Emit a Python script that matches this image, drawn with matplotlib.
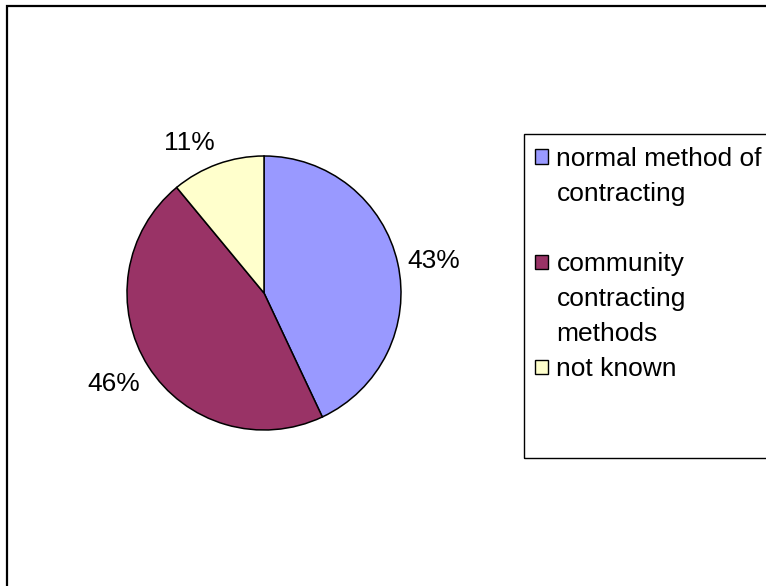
import matplotlib
matplotlib.use('Agg')
import matplotlib.pyplot as plt
from matplotlib.patches import Rectangle, Patch
import numpy as np

# contracting method shares (%)
methods = ['normal method of\ncontracting', 'community\ncontracting\nmethods', 'not known']
shares = [43, 46, 11]
colors = ['#9999FF', '#993366', '#FFFFCC']

plt.rcParams['font.family'] = ['Liberation Sans', 'DejaVu Sans']
plt.rcParams['font.size'] = 19

W, H = 766, 586
fig = plt.figure(figsize=(W / 100, H / 100), dpi=100)
fig.patch.set_facecolor('white')

# outer chart border (runs off the right and bottom edge)
fig.patches.append(Rectangle((7 / W, -0.05), 1.1, 1 - 6 / H + 0.05, transform=fig.transFigure,
                             fill=False, edgecolor='black', linewidth=1.6, clip_on=False))

# pie area, centre (264, 293), radius 137 px
cx, cy, r = 264, 293, 137
ax = fig.add_axes([(cx - r) / W, (H - cy - r) / H, 2 * r / W, 2 * r / H])
wedges, _, autotexts = ax.pie(shares, colors=colors, startangle=90, counterclock=False,
                              autopct='%1.0f%%', pctdistance=1.07,
                              wedgeprops=dict(edgecolor='black', linewidth=1.1))
ax.set_xlim(-1, 1)
ax.set_ylim(-1, 1)
ax.set_aspect('equal')
ax.axis('off')

for w, t in zip(wedges, autotexts):
    mid = np.deg2rad((w.theta1 + w.theta2) / 2)
    c, s = np.cos(mid), np.sin(mid)
    t.set_ha('left' if c > 0.1 else ('right' if c < -0.1 else 'center'))
    t.set_va('center' if abs(s) < 0.5 else ('bottom' if s > 0 else 'top'))
    t.set_fontsize(19)

# legend box
fig.patches.append(Rectangle((524 / W, 1 - 458 / H), 1.0, (458 - 134) / H, transform=fig.transFigure,
                             fill=False, edgecolor='black', linewidth=1.0, clip_on=False))

# one legend row per text line, swatch only on the first line of each entry
handles, labels = [], []
for name, col in zip(methods, colors):
    lines = name.split('\n')
    for i, line in enumerate(lines):
        if i == 0:
            handles.append(Patch(facecolor=col, edgecolor='black', linewidth=1.0))
        else:
            handles.append(Patch(facecolor='none', edgecolor='none'))
        labels.append(line)
    if name == methods[0]:
        handles.append(Patch(facecolor='none', edgecolor='none'))
        labels.append(' ')

fig.legend(handles, labels, loc='upper left', bbox_to_anchor=(535 / W, 1 - 147 / H),
           frameon=False, borderpad=0, borderaxespad=0, handlelength=0.48, handleheight=0.48,
           handletextpad=0.33, labelspacing=0.42, fontsize=19)

fig.savefig('out.png', dpi=100)
